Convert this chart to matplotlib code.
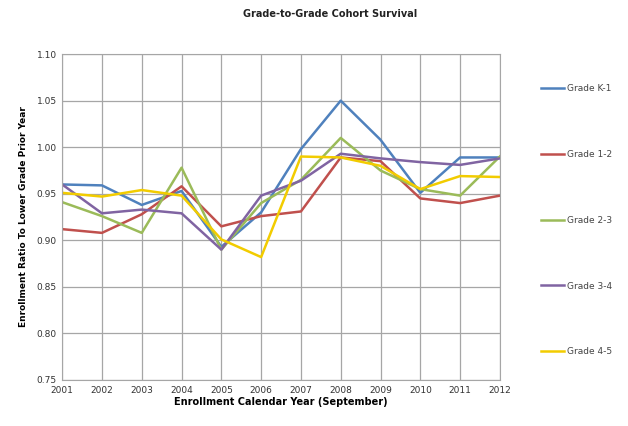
import matplotlib
matplotlib.use("Agg")
from matplotlib import pyplot as plt

# Enrollment years and cohort survival ratios
years = [2001, 2002, 2003, 2004, 2005, 2006, 2007, 2008, 2009, 2010, 2011, 2012]
grade_k1 = [0.960, 0.959, 0.938, 0.953, 0.893, 0.930, 0.998, 1.050, 1.008, 0.951, 0.989, 0.989]
grade_12 = [0.912, 0.908, 0.928, 0.958, 0.915, 0.926, 0.931, 0.989, 0.985, 0.945, 0.940, 0.948]
grade_23 = [0.941, 0.926, 0.908, 0.978, 0.890, 0.940, 0.965, 1.010, 0.975, 0.955, 0.948, 0.990]
grade_34 = [0.960, 0.929, 0.933, 0.929, 0.890, 0.948, 0.964, 0.993, 0.988, 0.984, 0.981, 0.988]
grade_45 = [0.951, 0.947, 0.954, 0.948, 0.901, 0.882, 0.990, 0.989, 0.980, 0.955, 0.969, 0.968]

labels = ["Grade K-1", "Grade 1-2", "Grade 2-3", "Grade 3-4", "Grade 4-5"]
colors = ["#4F81BD", "#C0504D", "#9BBB59", "#8064A2", "#F2CC00"]
series = [grade_k1, grade_12, grade_23, grade_34, grade_45]

fig = plt.figure(figsize=(6.28, 4.26), dpi=100)
ax = fig.add_axes([0.099, 0.108, 0.697, 0.765])

for vals, lab, col in zip(series, labels, colors):
    ax.plot(years, vals, color=col, linewidth=1.8, label=lab)

ax.set_xlim(2001, 2012)
ax.set_ylim(0.75, 1.10)
ax.set_xticks(years)
ax.set_yticks([0.75, 0.80, 0.85, 0.90, 0.95, 1.00, 1.05, 1.10])
ax.set_yticklabels(["%.2f" % v for v in ax.get_yticks()])
ax.tick_params(axis="both", length=0, labelsize=6.5, colors="#333333", pad=4)
ax.grid(True, color="#A6A6A6", linewidth=0.9)
for s in ax.spines.values():
    s.set_color("#A6A6A6")

ax.set_xlabel("Enrollment Calendar Year (September)", fontsize=7, fontweight="bold", labelpad=2)
ax.set_ylabel("Enrollment Ratio To Lower Grade Prior Year", fontsize=6.5, fontweight="bold", labelpad=6)
fig.text(0.525, 0.967, "Grade-to-Grade Cohort Survival", ha="center", va="center",
         fontsize=7, fontweight="bold", color="#222222")

fig.legend(loc="upper left", bbox_to_anchor=(0.848, 0.822), frameon=False,
           fontsize=6.5, handlelength=2.6, handletextpad=0.3, labelspacing=6.3,
           labelcolor="#444444")

fig.savefig("out.png", dpi=100)
